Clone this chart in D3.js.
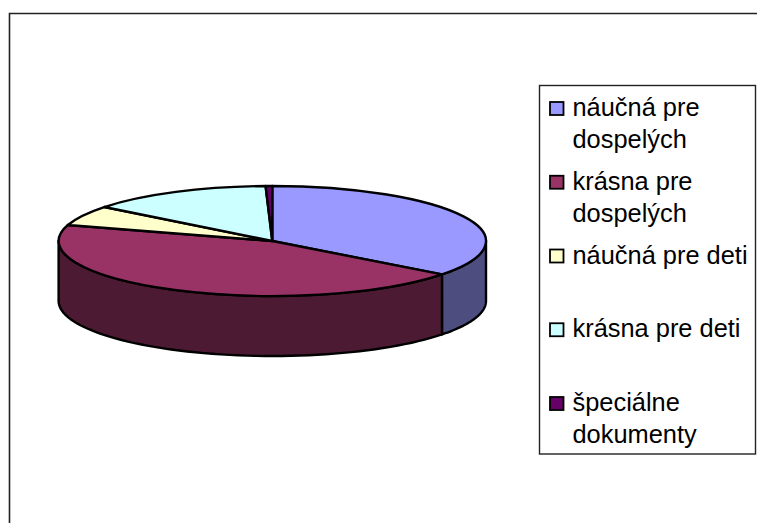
<!DOCTYPE html>
<html>
<head>
<meta charset="utf-8">
<script src="https://cdn.jsdelivr.net/npm/d3@7"></script>
<style>
  html, body { margin: 0; background: #fff; }
  svg { display: block; }
  text { font-family: "Liberation Sans", Arial, sans-serif; font-size: 25.4px; fill: #000; }
</style>
</head>
<body>
<svg id="chart" width="757" height="523"></svg>
<script>
const categories = ["náučná pre dospelých", "krásna pre dospelých", "náučná pre deti", "krásna pre deti", "špeciálne dokumenty"];
const labelLines = [["náučná pre", "dospelých"], ["krásna pre", "dospelých"], ["náučná pre deti"], ["krásna pre deti"], ["špeciálne", "dokumenty"]];
const values = [35.4, 44.3, 5.9, 13.9, 0.5];
const colors = ["#9999ff", "#993366", "#ffffcc", "#ccffff", "#660066"];
const sideColors = ["#4d4d80", "#4d1a33", "#80801a", "#668080", "#330033"];

const W = 757, H = 523;
const cx = 272.3, cy = 241, rx = 213.7, ry = 55, depth = 60;

const svg = d3.select("#chart");
const color = d3.scaleOrdinal(categories, colors);
const sideColor = d3.scaleOrdinal(categories, sideColors);

// outer frame, runs off the right and bottom of the picture
svg.append("path")
  .attr("d", `M9.5,${H + 2}V13.5H${W + 2}`)
  .attr("fill", "none").attr("stroke", "#222").attr("stroke-width", 1.6);

const pie = d3.pie().sort(null).value((d, i) => values[i]);
const arcs = pie(categories);

// point on the rim, angle clockwise from 12 o'clock
const rim = (a, dy = 0) => [cx + rx * Math.sin(a), cy - ry * Math.cos(a) + dy];

/* side wall: only the front half of the pie shows */
const front = [Math.PI / 2, Math.PI * 3 / 2];
const walls = arcs
  .map((d) => ({ d, a0: Math.max(d.startAngle, front[0]), a1: Math.min(d.endAngle, front[1]) }))
  .filter((w) => w.a1 > w.a0);

const wallPath = (w) => {
  const ts = d3.range(0, 61).map((k) => w.a0 + (w.a1 - w.a0) * k / 60);
  const pts = ts.map((a) => rim(a)).concat(ts.slice().reverse().map((a) => rim(a, depth)));
  return d3.line()(pts) + "Z";
};

svg.append("g").selectAll("path").data(walls).join("path")
  .attr("d", wallPath)
  .attr("fill", (w) => sideColor(w.d.data))
  .attr("stroke", "#000").attr("stroke-width", 2.4).attr("stroke-linejoin", "round");

/* top face: ordinary d3.arc squashed into an ellipse */
const arc = d3.arc().innerRadius(0).outerRadius(rx);
svg.append("g")
  .attr("transform", `translate(${cx},${cy}) scale(1,${ry / rx})`)
  .selectAll("path").data(arcs).join("path")
  .attr("d", arc)
  .attr("fill", (d) => color(d.data))
  .attr("stroke", "#000").attr("stroke-width", 2.4).attr("stroke-linejoin", "round")
  .attr("vector-effect", "non-scaling-stroke");

/* legend */
svg.append("rect")
  .attr("x", 539.5).attr("y", 85.5).attr("width", 216).attr("height", 368.5)
  .attr("fill", "#fff").attr("stroke", "#222").attr("stroke-width", 1.4);

const legendY = d3.scalePoint().domain(categories).range([116, 411]);
const lineStep = 32;
const row = svg.append("g").selectAll("g").data(categories).join("g")
  .attr("transform", (d) => `translate(0,${legendY(d)})`);

row.append("rect")
  .attr("x", 550).attr("y", -14).attr("width", 13.5).attr("height", 13)
  .attr("fill", (d) => color(d))
  .attr("stroke", "#000").attr("stroke-width", 1.8);

row.append("text")
  .attr("x", 572.5)
  .selectAll("tspan").data((d) => labelLines[categories.indexOf(d)]).join("tspan")
  .attr("x", 572.5)
  .attr("y", (l, i) => i * lineStep)
  .text((l) => l);
</script>
</body>
</html>
